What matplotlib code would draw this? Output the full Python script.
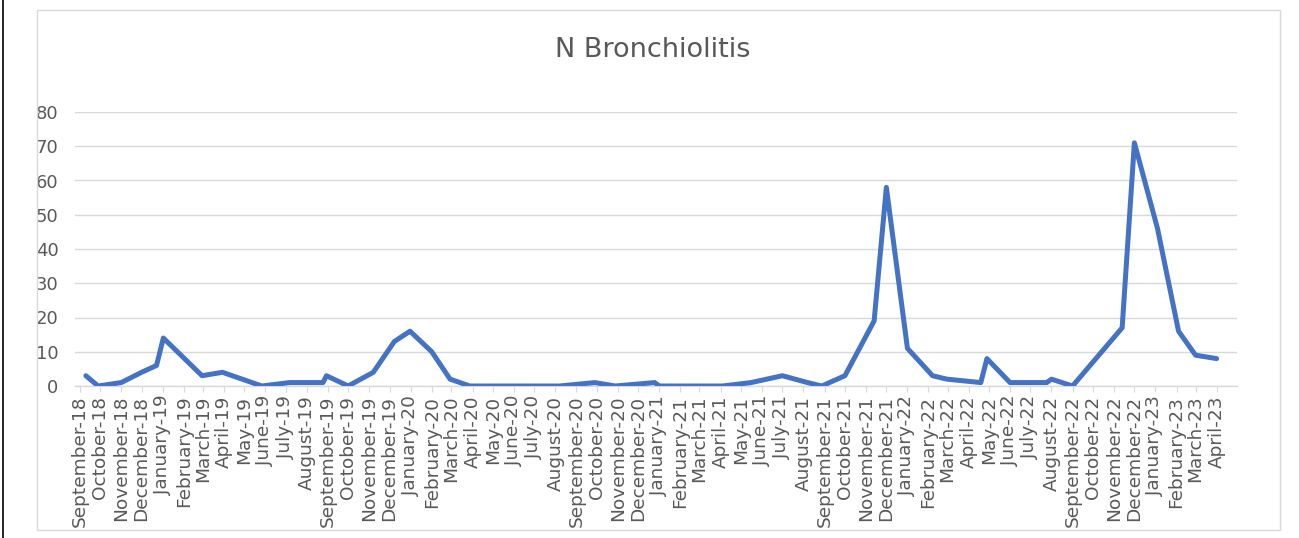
import numpy as np
import pandas as pd
import matplotlib
matplotlib.use('Agg')
import matplotlib.pyplot as plt
import matplotlib.dates as mdates
from matplotlib.patches import Rectangle
from matplotlib.lines import Line2D

# data
dates = [
    '2018-09-10', '2018-09-28', '2018-11-01', '2018-12-01', '2018-12-23',
    '2019-01-02', '2019-02-28', '2019-03-30', '2019-05-27', '2019-07-07',
    '2019-08-25', '2019-08-30', '2019-10-01', '2019-11-07', '2019-12-08',
    '2019-12-31', '2020-02-01', '2020-02-28', '2020-03-28', '2020-08-07',
    '2020-09-28', '2020-10-28', '2020-12-25', '2021-01-01', '2021-04-04',
    '2021-05-16', '2021-07-01', '2021-08-07', '2021-08-28', '2021-10-01',
    '2021-11-13', '2021-12-01', '2022-01-01', '2022-02-07', '2022-02-28',
    '2022-04-19', '2022-04-28', '2022-06-01', '2022-07-25', '2022-08-01',
    '2022-09-01', '2022-11-13', '2022-12-01', '2023-01-04', '2023-02-04',
    '2023-03-01', '2023-04-01',
]
n_bronchiolitis = [
    3, 0, 1, 4, 6,
    14, 3, 4, 0, 1,
    1, 3, 0, 4, 13,
    16, 10, 2, 0, 0,
    1, 0, 1, 0, 0,
    1, 3, 1, 0, 3,
    19, 58, 11, 3, 2,
    1, 8, 1, 1, 2,
    0, 17, 71, 46, 16,
    9, 8,
]
y_ticks = [0, 10, 20, 30, 40, 50, 60, 70, 80]
month_ticks = pd.date_range('2018-09-01', '2023-04-01', freq='MS')

TXT = '#595959'
GRID = '#D9D9D9'
BLUE = '#4472C4'
W, H = 1299, 538

fig = plt.figure(figsize=(W / 100, H / 100), dpi=100)
fig.patch.set_facecolor('white')

# outer chart frame + stray black edge on the left
fig.add_artist(Rectangle((37 / W, 1 - 530 / H), (1280 - 37) / W, (530 - 10) / H,
                         transform=fig.transFigure, fill=False,
                         edgecolor=GRID, linewidth=1))
fig.add_artist(Line2D([3 / W, 3 / W], [0, 1], transform=fig.transFigure,
                      color='black', linewidth=1.2))

ax = fig.add_axes([75 / W, 1 - 386 / H, (1237 - 75) / W, (386 - 112) / H])
x = pd.to_datetime(dates)
ax.plot(x, n_bronchiolitis, color=BLUE, linewidth=3.6,
        solid_joinstyle='round', solid_capstyle='round', zorder=3)

ax.set_ylim(0, 80)
ax.set_yticks(y_ticks)
ax.set_xlim(pd.Timestamp('2018-08-25'), pd.Timestamp('2023-05-01'))
ax.set_xticks(month_ticks)
ax.xaxis.set_major_formatter(mdates.DateFormatter('%B-%y'))

ax.grid(axis='y', color=GRID, linewidth=1)
ax.set_axisbelow(True)
for s in ['top', 'right', 'left']:
    ax.spines[s].set_visible(False)
ax.spines['bottom'].set_color(GRID)
ax.spines['bottom'].set_linewidth(1)

ax.tick_params(axis='y', length=0, pad=12, labelsize=13, labelcolor=TXT)
ax.tick_params(axis='x', length=4, color=GRID, pad=3, labelsize=13.3,
               labelcolor=TXT, labelrotation=90)

fig.text(653 / W, 1 - 50 / H, 'N Bronchiolitis', ha='center', va='center',
         fontsize=19.5, color=TXT)

fig.savefig('out.png', dpi=100)
